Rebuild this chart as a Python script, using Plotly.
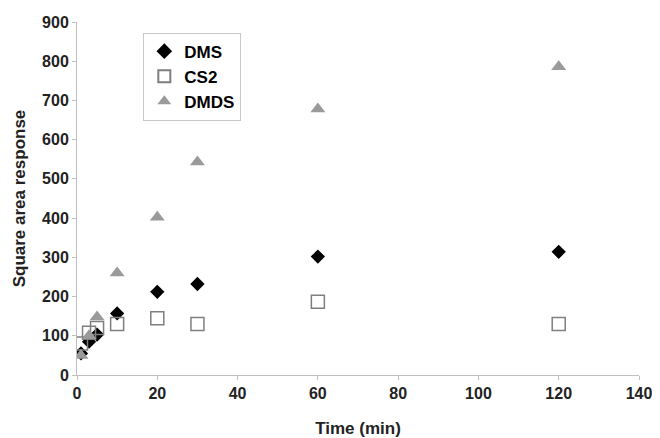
import plotly.graph_objects as go

time_min = [1, 3, 5, 10, 20, 30, 60, 120]
dms = [55, 85, 103, 157, 212, 232, 302, 314]
cs2 = [80, 108, 120, 130, 145, 130, 187, 130]
dmds = [50, 100, 148, 260, 402, 543, 678, 786]

x_ticks = [0, 20, 40, 60, 80, 100, 120, 140]
y_ticks = [0, 100, 200, 300, 400, 500, 600, 700, 800, 900]

font = "Liberation Sans, Arial, sans-serif"

fig = go.Figure()
fig.add_trace(go.Scatter(x=time_min, y=dms, mode="markers", name="<b>DMS</b>",
                         marker=dict(symbol="diamond", size=11, color="black",
                                     line=dict(width=0))))
fig.add_trace(go.Scatter(x=time_min, y=cs2, mode="markers", name="<b>CS2</b>",
                         marker=dict(symbol="square-open", size=13, color="#7f7f7f",
                                     line=dict(width=1.5))))
fig.add_trace(go.Scatter(x=time_min, y=dmds, mode="markers", name="<b>DMDS</b>",
                         marker=dict(symbol="triangle-up", size=13, color="#9a9a9a",
                                     line=dict(width=0))))

fig.update_layout(
    width=652, height=430,
    margin=dict(l=69, r=21, t=14, b=63),
    paper_bgcolor="white", plot_bgcolor="white",
    font=dict(family=font, size=16, color="#222222"),
    showlegend=True,
    legend=dict(x=0.118, y=0.97, xanchor="left", yanchor="top",
                bordercolor="#c8c8c8", borderwidth=1, bgcolor="white",
                font=dict(size=17, family=font, color="black"),
                itemsizing="constant", itemwidth=30, tracegroupgap=0),
    xaxis=dict(range=[0, 140], tickvals=x_ticks, ticktext=[f"<b>{v}</b>" for v in x_ticks],
               showgrid=False, zeroline=False, showline=True, linecolor="#c0c0c0",
               linewidth=1, ticks="outside", ticklen=4, tickcolor="#c0c0c0",
               automargin=False, tickfont=dict(size=16),
               title=dict(text="<b>Time (min)</b>", standoff=20, font=dict(size=17))),
    yaxis=dict(range=[0, 900], tickvals=y_ticks, ticktext=[f"<b>{v}</b>" for v in y_ticks],
               showgrid=False, zeroline=False, showline=True, linecolor="#c0c0c0",
               linewidth=1, ticks="outside", ticklen=4, tickcolor="#c0c0c0",
               automargin=False, tickfont=dict(size=16),
               title=dict(text="<b>Square area response</b>", standoff=12, font=dict(size=17))),
)

fig.write_html("out.html")
